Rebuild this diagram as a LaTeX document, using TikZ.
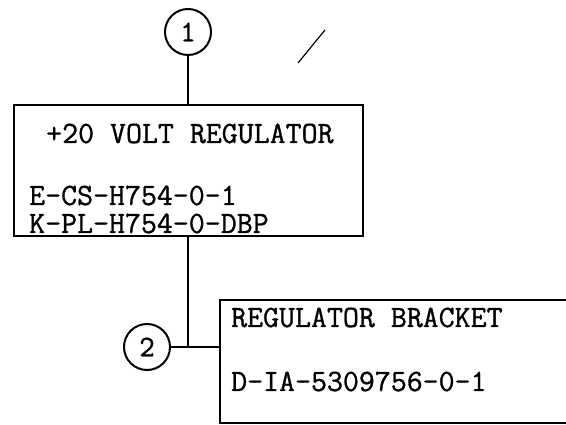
\documentclass[tikz,border=0pt]{standalone}
\usepackage{fontspec}
\usepackage{tikz}
\usetikzlibrary{positioning}
\newfontfamily\typer[FakeBold=1]{Latin Modern Mono}

\begin{document}
\begin{tikzpicture}[
  x=1pt,y=1pt,
  part/.style={draw,line width=2.2pt,inner sep=0pt},
  callout/.style={draw,circle,line width=2pt,minimum size=46pt,inner sep=0pt,
                  font=\fontsize{30}{30}\selectfont\typer},
  entry/.style={anchor=base west,inner sep=0pt,
                font=\fontsize{31}{31}\selectfont\typer},
  link/.style={line width=2.2pt}
]
  \clip (0,0) rectangle (566,425);
  % regulator and its bracket
  \node[part,minimum width=349pt,minimum height=131pt] (reg) at (188.5,254.5) {};
  \node[part,minimum width=400pt,minimum height=123pt] (bracket) at (420,63.5) {};
  \node[entry] (regname) at (46,282) {+20 VOLT REGULATOR};
  \node[entry] (regdwg) at (29,220) {E-CS-H754-0-1};
  \node[entry] (regpl) at (29,192) {K-PL-H754-0-DBP};
  \node[entry] (brkname) at (231,98) {REGULATOR BRACKET};
  \node[entry] (brkdwg) at (231,34) {D-IA-5309756-0-1};
  % find numbers
  \node[callout] (one) at (188,393) {1};
  \node[callout] (two) at (147,78) {2};
  \coordinate (tee) at (188,78);
  \draw[link] (one.south)--(one.south |- reg.north);
  \draw[link] (tee |- reg.south)--(tee);
  \draw[link] (two.east)--(two.east -| bracket.west);
  % stray pen mark
  \coordinate (marka) at (298,362);
  \coordinate (markb) at (325,395);
  \draw[line width=1.2pt] (marka)--(markb);
\end{tikzpicture}
\end{document}
